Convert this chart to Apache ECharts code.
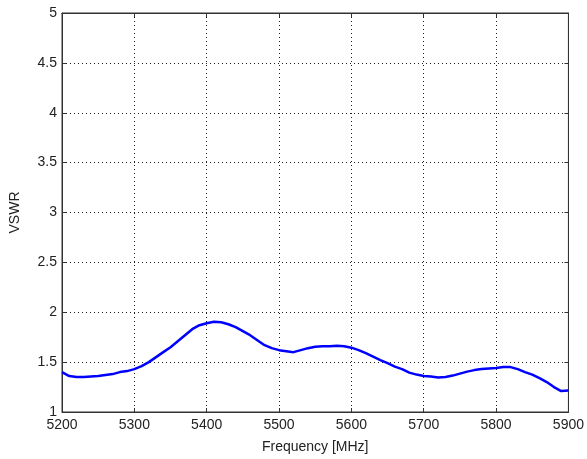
<!DOCTYPE html>
<html>
<head>
<meta charset="utf-8">
<script src="https://cdn.jsdelivr.net/npm/echarts@6/dist/echarts.min.js"></script>
<style>html,body{margin:0;padding:0;background:#fff}#c{width:587px;height:459px}</style>
</head>
<body>
<div id="c"></div>
<script>
const freq = [5200,5210,5220,5230,5240,5250,5260,5270,5280,5290,5300,5310,5320,5330,5340,5350,5360,5370,5380,5390,5400,5410,5420,5430,5440,5450,5460,5470,5480,5490,5500,5510,5520,5530,5540,5550,5560,5570,5580,5590,5600,5610,5620,5630,5640,5650,5660,5670,5680,5690,5700,5710,5720,5730,5740,5750,5760,5770,5780,5790,5800,5810,5820,5830,5840,5850,5860,5870,5880,5890,5900];
const vswr = [1.40,1.36,1.35,1.35,1.355,1.36,1.37,1.38,1.40,1.41,1.43,1.46,1.50,1.55,1.60,1.65,1.71,1.77,1.83,1.87,1.89,1.905,1.90,1.88,1.85,1.81,1.77,1.72,1.67,1.64,1.62,1.61,1.60,1.62,1.64,1.655,1.66,1.66,1.665,1.66,1.645,1.62,1.59,1.555,1.52,1.49,1.455,1.43,1.395,1.375,1.36,1.355,1.345,1.35,1.365,1.385,1.405,1.42,1.43,1.435,1.44,1.45,1.45,1.43,1.40,1.375,1.34,1.30,1.25,1.21,1.215];
const xLabel = 'Frequency [MHz]';
const yLabel = 'VSWR';

const font = 'Liberation Sans, Arial, sans-serif';
const axisCol = '#333';
const chart = echarts.init(document.getElementById('c'));
const data = freq.map((f, i) => [f, vswr[i]]);
chart.setOption({
  animation: false,
  backgroundColor: '#fff',
  grid: { left: 61, right: 16, top: 13, bottom: 47, show: true, borderColor: axisCol, borderWidth: 1 },
  xAxis: [{
    type: 'value', min: 5200, max: 5900, interval: 100,
    name: xLabel, nameLocation: 'middle', nameGap: 28,
    nameTextStyle: { fontFamily: font, fontSize: 14, color: '#222' },
    axisLine: { show: true, lineStyle: { color: axisCol } },
    axisTick: { show: true, inside: true, length: 4, lineStyle: { color: axisCol } },
    axisLabel: { fontFamily: font, fontSize: 14, color: '#222', margin: 6, formatter: v => String(v) },
    splitLine: { show: true, lineStyle: { color: '#222', type: [1, 3], width: 1 } }
  }, {
    type: 'value', position: 'top', min: 5200, max: 5900, interval: 100,
    axisLine: { show: true, lineStyle: { color: axisCol } },
    axisTick: { show: true, inside: true, length: 4, lineStyle: { color: axisCol } },
    axisLabel: { show: false }, splitLine: { show: false }
  }],
  yAxis: [{
    type: 'value', min: 1, max: 5, interval: 0.5,
    name: yLabel, nameLocation: 'middle', nameGap: 40, nameRotate: 90,
    nameTextStyle: { fontFamily: font, fontSize: 14, color: '#222' },
    axisLine: { show: true, lineStyle: { color: axisCol } },
    axisTick: { show: true, inside: true, length: 4, lineStyle: { color: axisCol } },
    axisLabel: { fontFamily: font, fontSize: 14, color: '#222', margin: 5, formatter: v => String(v) },
    splitLine: { show: true, lineStyle: { color: '#222', type: [1, 3], width: 1 } }
  }, {
    type: 'value', position: 'right', min: 1, max: 5, interval: 0.5,
    axisLine: { show: true, lineStyle: { color: axisCol } },
    axisTick: { show: true, inside: true, length: 4, lineStyle: { color: axisCol } },
    axisLabel: { show: false }, splitLine: { show: false }
  }],
  series: [{
    type: 'line', data: data, xAxisIndex: 0, yAxisIndex: 0,
    showSymbol: false, smooth: false,
    lineStyle: { color: '#0000ff', width: 2.5 }
  }]
});
</script>
</body>
</html>
